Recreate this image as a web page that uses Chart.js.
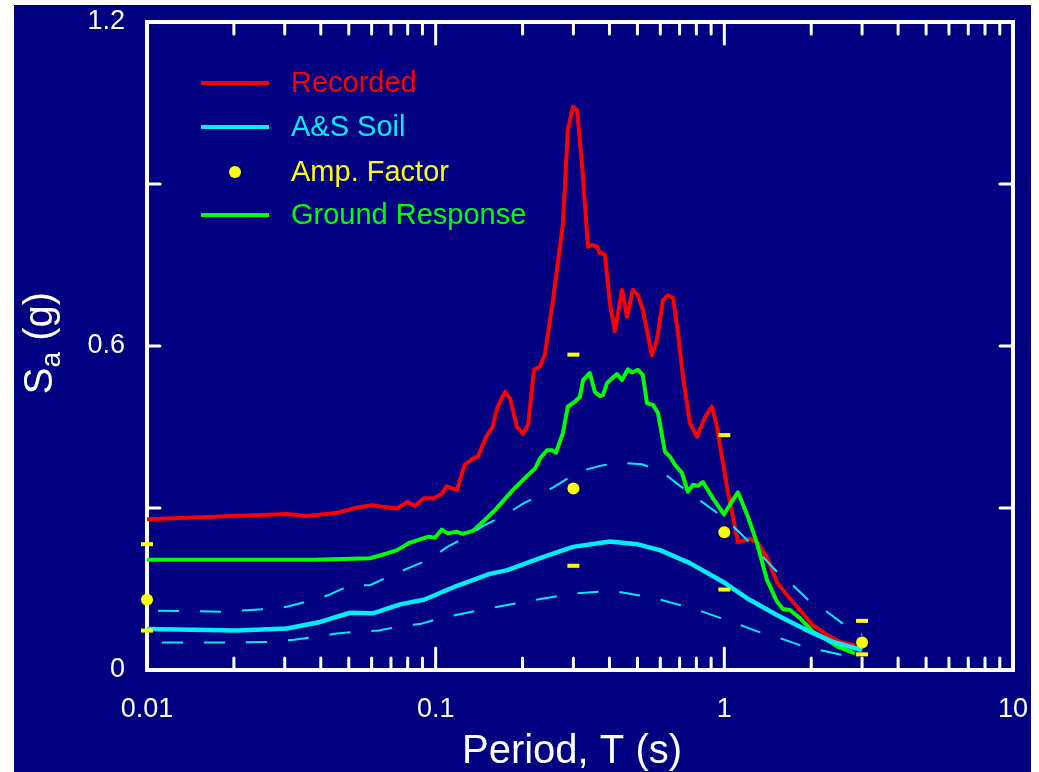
<!DOCTYPE html>
<html><head><meta charset="utf-8">
<script src="https://cdn.jsdelivr.net/npm/chart.js@4.4.1/dist/chart.umd.min.js"></script>
<style>
html,body{margin:0;padding:0;background:#fff;width:1039px;height:772px;overflow:hidden}
#wrap{position:absolute;left:14px;top:5px;width:1017px;height:767px;background:#000080}
canvas{display:block}
</style></head><body>
<div id="wrap"><canvas id="c" width="1017" height="767"></canvas></div>
<script>
// ---- data (period T in s, Sa in g) ----
const recordedT = [0.01,0.020,0.0305,0.0358,0.0455,0.0534,0.0602,0.0641,0.0735,0.0796,0.0848,0.0911,0.0987,0.105,0.109,0.1185,0.126,0.134,0.140,0.1505,0.157,0.164,0.174,0.181,0.191,0.2006,0.209,0.219,0.230,0.239,0.255,0.276,0.287,0.299,0.309,0.321,0.337,0.348,0.362,0.371,0.386,0.4015,0.418,0.442,0.460,0.482,0.502,0.522,0.561,0.584,0.613,0.638,0.664,0.691,0.719,0.760,0.804,0.857,0.906,0.943,1.021,1.115,1.227,1.308,1.416,1.521,1.648,1.828,2.027,2.267,2.514,2.835];
const recordedSa = [0.279,0.285,0.289,0.285,0.291,0.301,0.305,0.303,0.299,0.311,0.304,0.318,0.318,0.326,0.340,0.333,0.380,0.391,0.395,0.435,0.448,0.488,0.515,0.503,0.451,0.437,0.454,0.556,0.562,0.585,0.685,0.827,1.0,1.043,1.037,0.939,0.784,0.787,0.784,0.772,0.769,0.679,0.627,0.704,0.654,0.704,0.694,0.667,0.583,0.611,0.685,0.694,0.689,0.624,0.543,0.457,0.432,0.468,0.488,0.450,0.339,0.237,0.243,0.235,0.204,0.163,0.139,0.111,0.083,0.065,0.052,0.046];

const groundT = [0.01,0.0222,0.0379,0.0592,0.0678,0.0735,0.0815,0.0882,0.0948,0.0994,0.105,0.110,0.1185,0.124,0.135,0.146,0.1605,0.185,0.207,0.221,0.230,0.243,0.253,0.261,0.276,0.287,0.304,0.316,0.324,0.342,0.356,0.371,0.380,0.392,0.408,0.425,0.442,0.4635,0.479,0.502,0.522,0.5395,0.566,0.589,0.623,0.648,0.6745,0.713,0.748,0.778,0.810,0.843,0.913,0.997,1.071,1.115,1.207,1.297,1.405,1.521,1.596,1.687,1.828,2.027,2.267,2.474,2.835];
const groundSa = [0.204,0.204,0.204,0.207,0.216,0.222,0.236,0.242,0.247,0.245,0.260,0.253,0.256,0.252,0.258,0.275,0.296,0.333,0.359,0.373,0.392,0.407,0.407,0.402,0.439,0.488,0.497,0.506,0.537,0.550,0.515,0.507,0.509,0.531,0.540,0.548,0.537,0.557,0.551,0.556,0.546,0.494,0.491,0.476,0.404,0.395,0.380,0.365,0.330,0.343,0.341,0.348,0.318,0.288,0.315,0.329,0.284,0.235,0.167,0.127,0.113,0.111,0.096,0.071,0.056,0.043,0.031];

const asSoilT = [0.01,0.0205,0.0305,0.0398,0.0505,0.0606,0.0758,0.0911,0.1185,0.154,0.177,0.235,0.299,0.4015,0.498,0.598,0.760,1.005,1.198,1.521,1.979,2.378,3.0];
const asSoilSa = [0.076,0.073,0.077,0.089,0.106,0.105,0.122,0.130,0.156,0.178,0.185,0.209,0.228,0.238,0.233,0.222,0.198,0.161,0.133,0.102,0.071,0.052,0.037];

const asUpperT = [0.01,0.0185,0.026,0.0305,0.0364,0.0427,0.0505,0.0592,0.0694,0.0815,0.0956,0.109,0.128,0.146,0.174,0.199,0.2335,0.270,0.311,0.371,0.435,0.518,0.608,0.702,0.804,0.928,1.046,1.198,1.521,1.728,1.949,2.267,2.616,3.0];
const asUpperSa = [0.110,0.108,0.113,0.117,0.128,0.139,0.157,0.157,0.174,0.190,0.205,0.227,0.247,0.267,0.287,0.307,0.326,0.346,0.367,0.378,0.384,0.381,0.367,0.341,0.318,0.294,0.272,0.241,0.182,0.157,0.130,0.108,0.083,0.065];

const asLowerT = [0.01,0.0192,0.0271,0.0323,0.0382,0.0448,0.0534,0.0636,0.0752,0.0882,0.1035,0.146,0.207,0.292,0.408,0.575,0.810,0.950,1.115,1.308,1.558,1.828,2.144,2.555,3.0];
const asLowerSa = [0.051,0.051,0.052,0.056,0.061,0.067,0.071,0.073,0.081,0.085,0.096,0.112,0.127,0.141,0.147,0.133,0.111,0.098,0.085,0.071,0.059,0.046,0.037,0.028,0.019];

const ampT = [0.01,0.3,1,3];
const ampSa = [0.130,0.336,0.255,0.051];
const ampHigh = [0.233,0.584,0.435,0.091];
const ampLow = [0.073,0.193,0.149,0.029];

const xTickValues = [0.01,0.02,0.03,0.04,0.05,0.06,0.07,0.08,0.09,0.1,0.2,0.3,0.4,0.5,0.6,0.7,0.8,0.9,1,2,3,4,5,6,7,8,9,10];
const xDecades = [0.01,0.1,1,10];
const xDecadeLabels = ['0.01','0.1','1','10'];
const yTickValues = [0,0.3,0.6,0.9,1.2];
const yTickLabels = ['0','','0.6','','1.2'];
const legendLabels = ['Recorded','A&S Soil','Amp. Factor','Ground Response'];
const xTitleText = 'Period, T (s)';

// ---- colours ----
const RED = '#FF0000', CYAN = '#00EEFF', YELLOW = '#FFFF00', GREEN = '#00FF00', WHITE = '#FFFFFF';
const FONT = '"Liberation Sans", Arial, sans-serif';

const pts = (xs, ys) => xs.map((x, i) => ({x, y: ys[i]}));
const noPad = s => { s.paddingLeft = 0; s.paddingRight = 0; s.paddingTop = 0; s.paddingBottom = 0; };

const frameTicks = {
  id: 'frameTicks',
  beforeDatasetsDraw(chart) {
    const {ctx, chartArea: a, scales: {x, y}} = chart;
    ctx.save();
    ctx.strokeStyle = WHITE;
    ctx.lineWidth = 3;
    ctx.lineCap = 'round';
    x.ticks.forEach(t => {
      const px = x.getPixelForValue(t.value);
      const major = xDecades.some(d => Math.abs(d - t.value) < 1e-9);
      const len = major ? 22 : 12;
      ctx.beginPath();
      ctx.moveTo(px, a.bottom); ctx.lineTo(px, a.bottom - len);
      ctx.moveTo(px, a.top); ctx.lineTo(px, a.top + len);
      ctx.stroke();
    });
    y.ticks.forEach(t => {
      const py = y.getPixelForValue(t.value);
      ctx.beginPath();
      ctx.moveTo(a.left, py); ctx.lineTo(a.left + 13, py);
      ctx.moveTo(a.right, py); ctx.lineTo(a.right - 13, py);
      ctx.stroke();
    });
    ctx.lineWidth = 4; ctx.lineCap = 'butt'; ctx.lineJoin = 'miter';
    ctx.strokeRect(a.left, a.top, a.right - a.left, a.bottom - a.top);
    ctx.restore();
  }
};

const customLegend = {
  id: 'customLegend',
  afterDatasetsDraw(chart) {
    const ctx = chart.ctx;
    const x1 = 187, x2 = 255, tx = 277, ys = [78, 122, 167, 210];
    ctx.save();
    ctx.font = '29px ' + FONT;
    ctx.textBaseline = 'middle';
    ctx.textAlign = 'left';
    legendLabels.forEach((lab, i) => {
      const ds = chart.data.datasets.find(d => d.label === lab);
      const col = ds.borderColor;
      const yy = ys[i];
      if (ds.showLine === false) {
        ctx.fillStyle = ds.backgroundColor;
        ctx.beginPath(); ctx.arc((x1 + x2) / 2, yy, 6, 0, Math.PI * 2); ctx.fill();
      } else {
        ctx.strokeStyle = col; ctx.lineWidth = 4; ctx.lineCap = 'butt';
        ctx.beginPath(); ctx.moveTo(x1, yy); ctx.lineTo(x2, yy); ctx.stroke();
      }
      ctx.fillStyle = col;
      ctx.fillText(lab, tx, yy + 1);
    });
    ctx.restore();
  }
};

const axisTitles = {
  id: 'axisTitles',
  afterDraw(chart) {
    const ctx = chart.ctx;
    // x title
    ctx.save();
    ctx.fillStyle = WHITE; ctx.font = '40px ' + FONT;
    ctx.textAlign = 'center'; ctx.textBaseline = 'alphabetic';
    ctx.fillText(xTitleText, 558, 758);
    ctx.restore();
    // y title with subscript
    const cx = 24, cy = 338;
    ctx.save();
    ctx.translate(cx, cy); ctx.rotate(-Math.PI / 2);
    ctx.fillStyle = WHITE; ctx.textBaseline = 'alphabetic'; ctx.textAlign = 'left';
    const big = '40px ' + FONT, small = '28px ' + FONT;
    ctx.font = big; const wS = ctx.measureText('S').width; const wR = ctx.measureText(' (g)').width;
    ctx.font = small; const wa = ctx.measureText('a').width;
    let x0 = -(wS + wa + wR) / 2; const base = 14;
    ctx.font = big; ctx.fillText('S', x0, base); x0 += wS;
    ctx.font = small; ctx.fillText('a', x0, base + 8); x0 += wa;
    ctx.font = big; ctx.fillText(' (g)', x0, base);
    ctx.restore();
  }
};

const pad = {top: 17, right: 18, left: 0, bottom: 0};

const chart = new Chart(document.getElementById('c'), {
  type: 'scatter',
  data: {
    datasets: [
      {label: 'Amp. Factor', data: pts(ampT, ampSa), showLine: false, pointRadius: 6, pointBorderWidth: 0,
       backgroundColor: YELLOW, borderColor: YELLOW, clip: false, order: 0},
      {label: 'Amp. Factor range', data: pts(ampT, ampHigh).concat(pts(ampT, ampLow)), showLine: false,
       pointStyle: 'line', pointRadius: 6, pointBorderWidth: 4, borderColor: YELLOW, backgroundColor: YELLOW, clip: false, order: 1},
      {label: 'A&S Soil upper', data: pts(asUpperT, asUpperSa), showLine: true, borderColor: CYAN, borderWidth: 2,
       borderDash: [21, 21], borderDashOffset: 31, pointRadius: 0, clip: false, order: 2},
      {label: 'A&S Soil lower', data: pts(asLowerT, asLowerSa), showLine: true, borderColor: CYAN, borderWidth: 2,
       borderDash: [21, 21], borderDashOffset: 27, pointRadius: 0, clip: false, order: 2},
      {label: 'A&S Soil', data: pts(asSoilT, asSoilSa), showLine: true, borderColor: CYAN, borderWidth: 4.5,
       pointRadius: 0, clip: false, order: 3},
      {label: 'Ground Response', data: pts(groundT, groundSa), showLine: true, borderColor: GREEN, borderWidth: 4,
       pointRadius: 0, clip: false, order: 4},
      {label: 'Recorded', data: pts(recordedT, recordedSa), showLine: true, borderColor: RED, borderWidth: 4,
       pointRadius: 0, clip: false, order: 5}
    ]
  },
  options: {
    responsive: false,
    devicePixelRatio: 1,
    animation: false,
    events: [],
    layout: {padding: pad, autoPadding: false},
    plugins: {legend: {display: false}, tooltip: {enabled: false}},
    elements: {line: {tension: 0, borderJoinStyle: 'round'}},
    scales: {
      x: {
        type: 'logarithmic', min: 0.01, max: 10,
        afterBuildTicks: s => { s.ticks = xTickValues.map(v => ({value: v})); },
        afterFit: s => { s.height = 102; noPad(s); },
        grid: {display: false, drawTicks: false},
        border: {display: false},
        ticks: {
          autoSkip: false, maxRotation: 0, minRotation: 0, padding: 23, color: WHITE,
          font: {family: FONT, size: 27},
          callback: v => { const i = xDecades.findIndex(d => Math.abs(d - v) < 1e-9); return i >= 0 ? xDecadeLabels[i] : ''; }
        },
        title: {display: false, text: xTitleText}
      },
      y: {
        type: 'linear', min: 0, max: 1.2,
        afterBuildTicks: s => { s.ticks = yTickValues.map(v => ({value: v})); },
        afterFit: s => { s.width = 133; noPad(s); },
        grid: {display: false, drawTicks: false},
        border: {display: false},
        ticks: {
          padding: 22, color: WHITE, font: {family: FONT, size: 27},
          callback: v => { const i = yTickValues.findIndex(d => Math.abs(d - v) < 1e-9); return i >= 0 ? yTickLabels[i] : ''; }
        }
      }
    }
  },
  plugins: [frameTicks, customLegend, axisTitles]
});

// nudge the layout so the plot frame lands where the reference has it
const target = {left: 133, top: 17, right: 999, bottom: 665};
for (let k = 0; k < 4; k++) {
  const ca = chart.chartArea;
  const dT = target.top - ca.top, dR = ca.right - target.right, dL = target.left - ca.left, dB = ca.bottom - target.bottom;
  if (Math.abs(dT) < 0.5 && Math.abs(dR) < 0.5 && Math.abs(dL) < 0.5 && Math.abs(dB) < 0.5) break;
  pad.top += dT; pad.right += dR; pad.left += dL; pad.bottom += dB;
  chart.update('none');
}
</script></body></html>
